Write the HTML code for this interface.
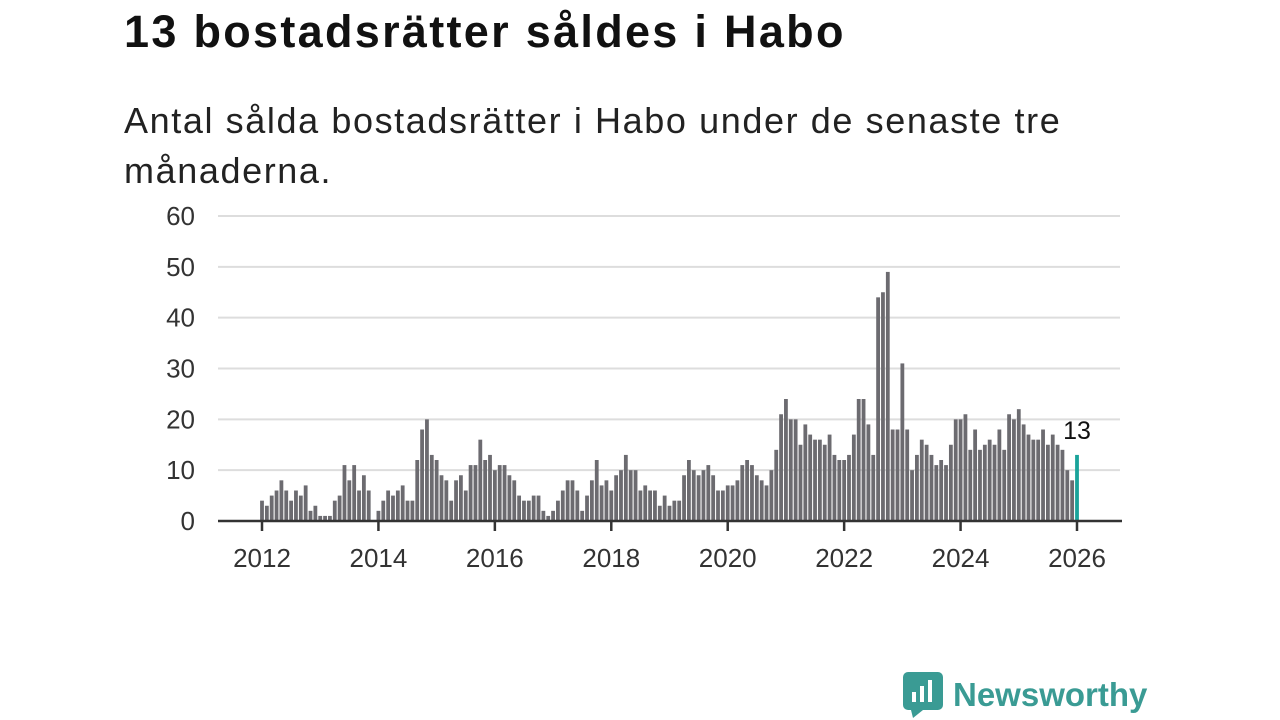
<!DOCTYPE html>
<html><head><meta charset="utf-8"><style>
body{margin:0;width:1280px;height:720px;background:#fff;font-family:"Liberation Sans",sans-serif;overflow:hidden;position:relative}
h1{position:absolute;left:124px;top:6px;margin:0;font-size:45px;font-weight:bold;color:#111;letter-spacing:2.3px}
p{position:absolute;left:124px;top:96px;margin:0;font-size:36px;line-height:50px;color:#222;width:1000px;letter-spacing:1.6px}
</style></head><body>
<h1>13 bostadsrätter såldes i Habo</h1>
<p>Antal sålda bostadsrätter i Habo under de senaste tre månaderna.</p>
<svg id="c" width="1280" height="720" style="position:absolute;left:0;top:0"></svg>
<div style="position:absolute;left:903px;top:672px;display:flex;align-items:center">
<svg width="40" height="46" viewBox="0 0 40 46"><rect x="0" y="0" width="40" height="38" rx="5" fill="#3a9b94"/><polygon points="8,38 20,38 10,46" fill="#3a9b94"/><rect x="9" y="20" width="4" height="10" fill="#fff"/><rect x="17" y="14" width="4" height="16" fill="#fff"/><rect x="25" y="8" width="4" height="22" fill="#fff"/></svg>
<span style="font-size:33px;font-weight:bold;color:#3a9b94;margin-left:10px">Newsworthy</span></div>
<script>
const years=['2012','2014','2016','2018','2020','2022','2024','2026'];
const yTicks=[0,10,20,30,40,50,60];
const values=[
4,3,5,6,8,6,4,6,5,7,2,3,
1,1,1,4,5,11,8,11,6,9,6,0,
2,4,6,5,6,7,4,4,12,18,20,13,
12,9,8,4,8,9,6,11,11,16,12,13,
10,11,11,9,8,5,4,4,5,5,2,1,
2,4,6,8,8,6,2,5,8,12,7,8,
6,9,10,13,10,10,6,7,6,6,3,5,
3,4,4,9,12,10,9,10,11,9,6,6,
7,7,8,11,12,11,9,8,7,10,14,21,
24,20,20,15,19,17,16,16,15,17,13,12,
12,13,17,24,24,19,13,44,45,49,18,18,
31,18,10,13,16,15,13,11,12,11,15,20,
20,21,14,18,14,15,16,15,18,14,21,20,
22,19,17,16,16,18,15,17,15,14,10,8,
13];
const svg=document.getElementById('c');const NS='http://www.w3.org/2000/svg';
const x0=262,x1=1077,yb=521,yt=216;
const X=i=>x0+(x1-x0)*i/(values.length-1);
const Y=v=>yb-(yb-yt)*v/60;
function mk(t,a){const e=document.createElementNS(NS,t);for(const k in a)e.setAttribute(k,a[k]);svg.appendChild(e);return e;}
yTicks.forEach(v=>{
 if(v>0){const g=mk('line',{x1:218,x2:1120,y1:Y(v),y2:Y(v),stroke:'#ddd','stroke-width':2});
 
 }
 const t=mk('text',{x:195,y:Y(v)+9,'text-anchor':'end','font-size':26,fill:'#333','font-family':'Liberation Sans'});t.textContent=v;
 
 
});
values.forEach((v,i)=>{
 const last=i===values.length-1;
 const r=mk('rect',{x:X(i)-1.9,y:Y(v),width:3.8,height:yb-Y(v),fill:last?'#1aa39a':'#6c6b70'});
 
 
});
const ax=mk('line',{x1:218,x2:1122,y1:yb,y2:yb,stroke:'#333','stroke-width':2.5});


years.forEach((y,k)=>{
 const xi=X(k*24);
 const tk=mk('line',{x1:xi,x2:xi,y1:yb,y2:yb+10,stroke:'#333','stroke-width':2.5});
 
 
 const t=mk('text',{x:xi,y:567,'text-anchor':'middle','font-size':26,fill:'#333','font-family':'Liberation Sans'});t.textContent=y;
 
 
});
const lv=values[values.length-1];
const lb=mk('text',{x:X(values.length-1),y:Y(lv)-16,'text-anchor':'middle','font-size':25,fill:'#111','font-family':'Liberation Sans'});lb.textContent=lv;


</script>
</body></html>
